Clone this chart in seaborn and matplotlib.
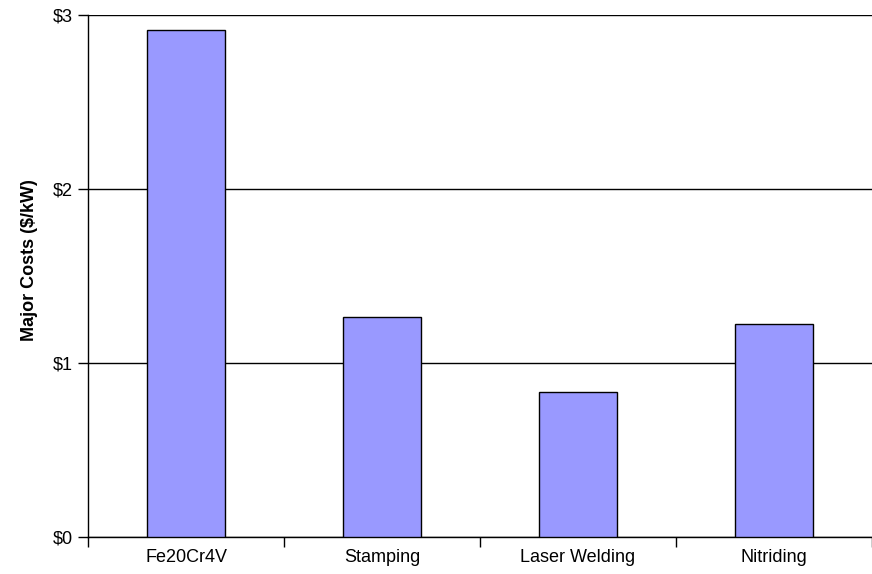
import numpy as np
import pandas as pd
import matplotlib
matplotlib.use('Agg')
import matplotlib.pyplot as plt
import seaborn as sns

categories = ['Fe20Cr4V', 'Stamping', 'Laser Welding', 'Nitriding']
costs = [2.914, 1.262, 0.833, 1.224]
y_ticks = [0, 1, 2, 3]
y_labels = ['$0', '$1', '$2', '$3']

df = pd.DataFrame({'Category': categories, 'Cost': costs})

sns.set_style('white')
plt.rcParams['font.family'] = ['Liberation Sans', 'DejaVu Sans']
plt.rcParams['text.color'] = 'black'
plt.rcParams['axes.labelcolor'] = 'black'
plt.rcParams['xtick.color'] = 'black'
plt.rcParams['ytick.color'] = 'black'

fig = plt.figure(figsize=(8.72, 5.74), dpi=100)
ax = fig.add_axes([88 / 872, 37 / 574, 1 - 88 / 872, 522 / 574])

sns.barplot(data=df, x='Category', y='Cost', color='#9999ff', saturation=1,
            width=0.4, edgecolor='black', linewidth=1, ax=ax, zorder=3)

ax.set_xlim(-0.5, 3.5)
ax.set_ylim(0, 3)
ax.set_yticks(y_ticks)
ax.set_yticklabels(y_labels, fontsize=13)
ax.yaxis.grid(True, color='black', linewidth=1)
ax.set_axisbelow(True)

# category boundary ticks
ax.set_xticks(np.arange(-0.5, 4, 1), minor=True)
ax.tick_params(axis='x', which='minor', length=7, width=1, color='black', direction='out', bottom=True)
ax.tick_params(axis='x', which='major', length=0, labelsize=13, pad=9)
ax.tick_params(axis='y', length=7, width=1, color='black', direction='out', left=True, pad=4)

ax.set_xlabel('')
ax.set_ylabel('Major Costs ($/kW)', fontsize=13, fontweight='bold')
ax.yaxis.set_label_coords(-0.064, 0.53)

for side in ['top', 'right']:
    ax.spines[side].set_visible(False)
for side in ['left', 'bottom']:
    ax.spines[side].set_color('black')
    ax.spines[side].set_linewidth(1)

fig.savefig('out.png', dpi=100)
